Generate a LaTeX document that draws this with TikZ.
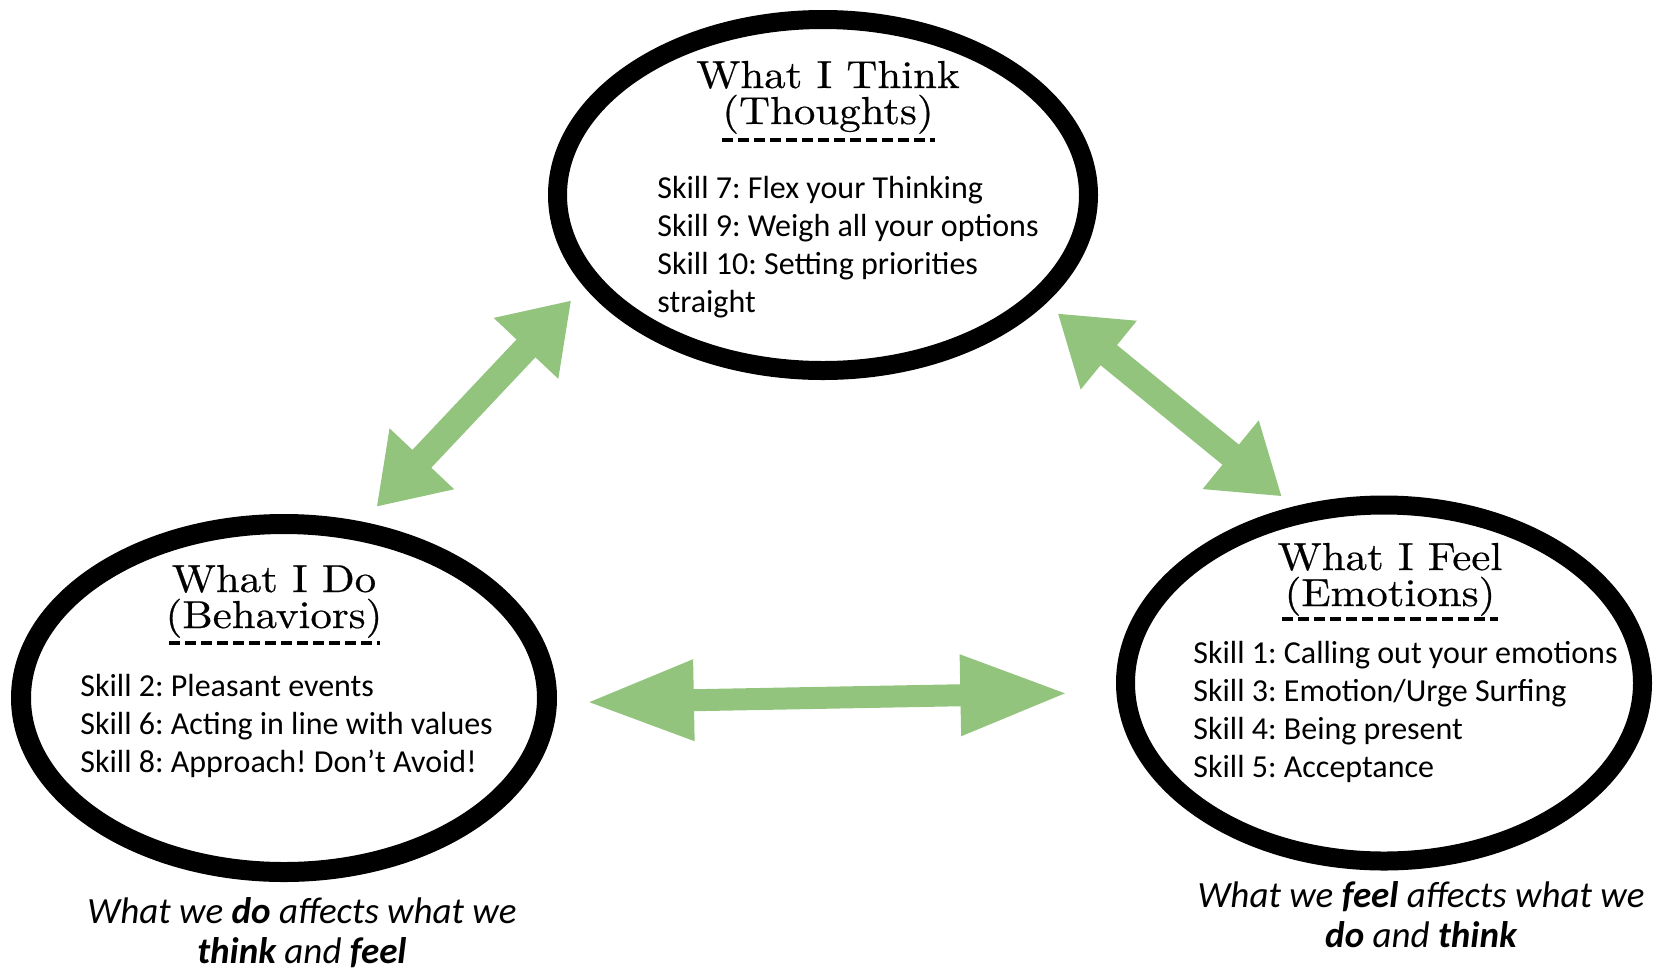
\documentclass[tikz,border=0pt]{standalone}
\usepackage{fontspec}
\setsansfont{Carlito}
\newfontfamily\headfont{lmroman10-regular.otf}[FakeStretch=1.1, FakeBold=0.5]
\usetikzlibrary{shapes.geometric, arrows.meta}
\definecolor{arrowgreen}{RGB}{147,196,125}

\begin{document}
\frenchspacing
\begin{tikzpicture}[x=0.5pt, y=-0.5pt,
    oval/.style = {ellipse, draw, inner sep=0pt},
    heading/.style = {font=\headfont\fontsize{19.5}{18}\selectfont, align=center, anchor=base, inner sep=0pt},
    skills/.style = {font=\sffamily\fontsize{16}{19}\selectfont, align=left, anchor=base west, inner sep=0pt},
    motto/.style = {font=\sffamily\itshape\fontsize{18.5}{20}\selectfont, align=center, anchor=base, inner sep=0pt},
    dash rule/.style = {line width=2pt, dash pattern=on 5.5pt off 2.5pt},
    slant way/.style = {arrowgreen, line width=13pt, {Triangle[length=33pt, width=42pt]}-{Triangle[length=33pt, width=42pt]}},
    flat way/.style = {arrowgreen, line width=11pt, {Triangle[length=54pt, width=37.5pt]}-{Triangle[length=54pt, width=37.5pt]}}]
     \useasboundingbox (0,0) rectangle (1654,970);
     % the ovals
     \node[oval, line width=9.5pt, minimum width=265.5pt, minimum height=175.5pt] (think oval) at (823,195) {};
     \node[oval, line width=10pt, minimum width=263pt, minimum height=174pt] (do oval) at (284,698) {};
     \node[oval, line width=9.5pt, minimum width=258.5pt, minimum height=178pt] (feel oval) at (1384,683) {};
     % the headings
     \node[heading] (think title) at (828,124) {What I Think\\(Thoughts)};
     \node[heading] (do title) at (274,628) {What I Do\\(Behaviors)};
     \node[heading] (feel title) at (1390,606) {What I Feel\\(Emotions)};
     \draw[dash rule] (722,140) -- (935,140);
     \draw[dash rule] (169,643) -- (380,643);
     \draw[dash rule] (1282,619) -- (1498,619);
     % the skills
     \node[skills] (think skills) at (657,312) {Skill 7: Flex your Thinking\\Skill 9: Weigh all your options\\Skill 10: Setting priorities\\straight};
     \node[skills] (do skills) at (80,772) {Skill 2: Pleasant events\\Skill 6: Acting in line with values\\Skill 8: Approach! Don’t Avoid!};
     \node[skills] (feel skills) at (1193,777) {Skill 1: Calling out your emotions\\Skill 3: Emotion/Urge Surfing\\Skill 4: Being present\\Skill 5: Acceptance};
     % the captions
     \node[motto] (do motto) at (302,963) {What we \textbf{do} affects what we\\\textbf{think} and \textbf{feel}};
     \node[motto] (feel motto) at (1421,947) {What we \textbf{feel} affects what we\\\textbf{do} and \textbf{think}};
     % the arrows
     \draw[slant way, shorten <=10.3pt, shorten >=9.4pt] (do oval.66) -- (think oval.201);
     \draw[slant way, shorten <=7.75pt, shorten >=7.9pt] (think oval.334) -- (feel oval.117);
     \draw[flat way, shorten <=14.5pt, shorten >=24pt] (do oval.359) -- (feel oval.182);
    \end{tikzpicture}
\end{document}
